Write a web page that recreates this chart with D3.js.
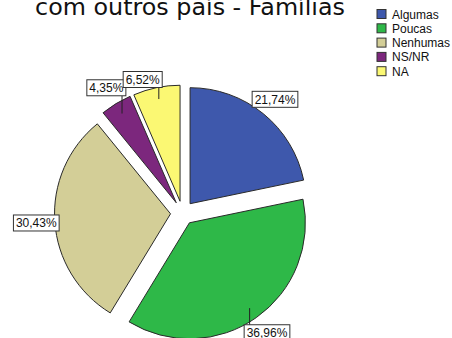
<!DOCTYPE html>
<html>
<head>
<meta charset="utf-8">
<script src="https://cdn.jsdelivr.net/npm/d3@7"></script>
<style>
  html, body { margin: 0; padding: 0; background: #fff; }
  svg { display: block; }
</style>
</head>
<body>
<svg id="chart" width="452" height="338"></svg>
<script>
// Answer categories and their share of families (%)
const categories = ["Algumas", "Poucas", "Nenhumas", "NS/NR", "NA"];
const percents = [21.74, 36.96, 30.43, 4.35, 6.52];
const colors = ["#3E58AC", "#2EB848", "#D3CE97", "#7C277D", "#FBF873"];
const titleText = "com outros país - Famílias";

// Layout settings
const W = 452, H = 338;
const cx = 182.5, cy = 213;      // pie centre
const radius = 116;
const explode = 12;              // every slice is pulled out from the centre
const labelFont = "'Liberation Sans', Arial, sans-serif";
const withLeader = new Set(["Poucas", "NS/NR", "NA"]);
const labelShift = { "NA": [-10, 10] };

const svg = d3.select("#chart");

// Title (second line of the heading, top clipped by the frame)
const title = svg.append("text")
  .attr("x", 190).attr("y", 15)
  .attr("text-anchor", "middle")
  .attr("font-family", "'DejaVu Sans', Verdana, sans-serif")
  .attr("font-size", 20)
  .attr("fill", "#111")
  .text(titleText);
const tw = title.node().getComputedTextLength();
title.attr("font-size", 20 * 310 / tw);

const data = categories.map((c, i) => ({ cat: c, value: percents[i], color: colors[i] }));

const pie = d3.pie().sort(null).value(d => d.value);
const arcs = pie(data);
const arc = d3.arc().innerRadius(0).outerRadius(radius);

const g = svg.append("g").attr("transform", `translate(${cx},${cy})`);

arcs.forEach(a => {
  const mid = (a.startAngle + a.endAngle) / 2;
  a.dx = explode * Math.sin(mid);
  a.dy = -explode * Math.cos(mid);
  a.mid = mid;
});

g.selectAll("path.slice")
  .data(arcs)
  .join("path")
  .attr("class", "slice")
  .attr("transform", d => `translate(${d.dx},${d.dy})`)
  .attr("d", arc)
  .attr("fill", d => d.data.color)
  .attr("stroke", "#2a2a2a")
  .attr("stroke-width", 1)
  .attr("stroke-linejoin", "round");

// Value labels in framed boxes
const fmt = v => v.toFixed(2).replace(".", ",") + "%";
const labels = svg.append("g");
arcs.forEach(a => {
  const px = cx + a.dx, py = cy + a.dy;
  const anchor = [px + 0.9 * radius * Math.sin(a.mid), py - 0.9 * radius * Math.cos(a.mid)];
  const shift = labelShift[a.data.cat] || [0, 0];
  const lx = px + 1.16 * radius * Math.sin(a.mid) + shift[0];
  const ly = py - 1.16 * radius * Math.cos(a.mid) + shift[1];

  const lg = labels.append("g");
  const t = lg.append("text")
    .attr("x", lx).attr("y", ly + 4.5)
    .attr("text-anchor", "middle")
    .attr("font-family", labelFont)
    .attr("font-size", 12)
    .attr("fill", "#111")
    .text(fmt(a.data.value));
  const w = t.node().getComputedTextLength() + 5;
  const h = 16;
  const bx = lx - w / 2, by = ly - h / 2;
  lg.insert("rect", "text")
    .attr("x", bx).attr("y", by)
    .attr("width", w).attr("height", h)
    .attr("fill", "#fff")
    .attr("stroke", "#333")
    .attr("stroke-width", 1);

  if (withLeader.has(a.data.cat)) {
    const nx = Math.max(bx, Math.min(anchor[0], bx + w));
    const ny = Math.max(by, Math.min(anchor[1], by + h));
    labels.insert("line", ":first-child")
      .attr("x1", anchor[0]).attr("y1", anchor[1])
      .attr("x2", nx).attr("y2", ny)
      .attr("stroke", "#222")
      .attr("stroke-width", 1);
  }
});

// Legend
const legend = svg.append("g").attr("transform", "translate(377,14)");
const rowStep = 14.3;
const item = legend.selectAll("g")
  .data(data)
  .join("g")
  .attr("transform", (d, i) => `translate(0,${i * rowStep})`);
item.append("rect")
  .attr("x", 0).attr("y", -4.5)
  .attr("width", 9).attr("height", 9)
  .attr("fill", d => d.color)
  .attr("stroke", "#333")
  .attr("stroke-width", 1);
item.append("text")
  .attr("x", 15).attr("y", 4.5)
  .attr("font-family", labelFont)
  .attr("font-size", 12)
  .attr("fill", "#111")
  .text(d => d.cat);
</script>
</body>
</html>
